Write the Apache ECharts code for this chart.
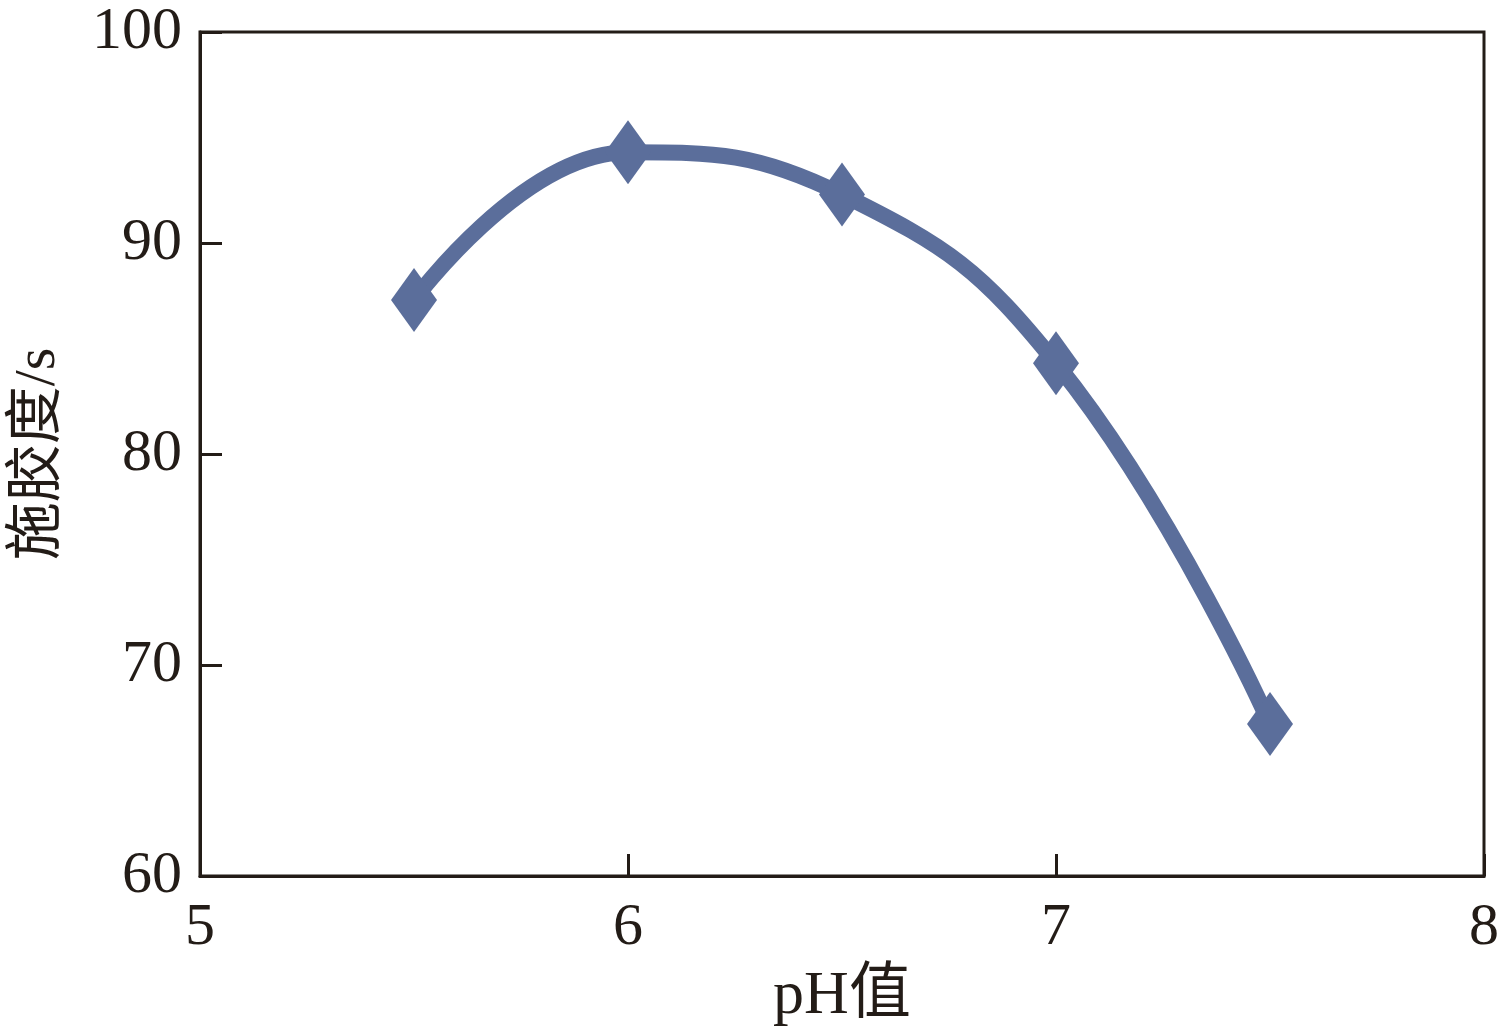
<!DOCTYPE html>
<html><head><meta charset="utf-8">
<script src="https://cdn.jsdelivr.net/npm/echarts@6/dist/echarts.min.js"></script>
<style>html,body{margin:0;padding:0;background:#fff}#c{width:1512px;height:1027px}</style>
</head><body><div id="c"></div>
<script>
const phValues = [5.5, 6, 6.5, 7, 7.5];
const sizingDegree = [87.3, 94.3, 92.3, 84.3, 67.2];
const xTicks = [5, 6, 7, 8];
const yTicks = [60, 70, 80, 90, 100];
const xName = 'pH值';
const yName = '施胶度/s';

const font = 'Liberation Serif, Noto Sans CJK SC, serif';
const ink = '#231c17';
const chart = echarts.init(document.getElementById('c'));
chart.setOption({
  animation: false,
  backgroundColor: '#fff',
  grid: { left: 200, right: 28, top: 32, bottom: 151, containLabel: false, outerBoundsMode: 'none', show: true, borderColor: ink, borderWidth: 3, backgroundColor: 'transparent' },
  xAxis: {
    type: 'value', min: xTicks[0], max: xTicks[xTicks.length - 1], interval: 1,
    name: xName, nameLocation: 'middle', nameGap: 90,
    nameTextStyle: { fontFamily: font, fontSize: 62, color: ink },
    axisLine: { show: true, lineStyle: { color: ink, width: 3 } },
    axisTick: { show: true, inside: true, length: 22, lineStyle: { color: ink, width: 3 } },
    axisLabel: { fontFamily: font, fontSize: 60, color: ink, margin: 22 },
    splitLine: { show: false }
  },
  yAxis: {
    type: 'value', min: yTicks[0], max: yTicks[yTicks.length - 1], interval: 10,
    name: yName, nameLocation: 'middle', nameGap: 132, nameRotate: 90,
    nameTextStyle: { fontFamily: font, fontSize: 58, color: ink },
    axisLine: { show: true, lineStyle: { color: ink, width: 3 } },
    axisTick: { show: true, inside: true, length: 22, lineStyle: { color: ink, width: 3 } },
    axisLabel: { fontFamily: font, fontSize: 60, color: ink, margin: 18 },
    splitLine: { show: false }
  },
  series: [{
    type: 'line',
    data: phValues.map((x, i) => [x, sizingDegree[i]]),
    smooth: 0.45,
    symbol: 'diamond',
    symbolSize: [46, 64],
    lineStyle: { color: '#5b6e9b', width: 16 },
    itemStyle: { color: '#5b6e9b' }
  }]
});
</script></body></html>
